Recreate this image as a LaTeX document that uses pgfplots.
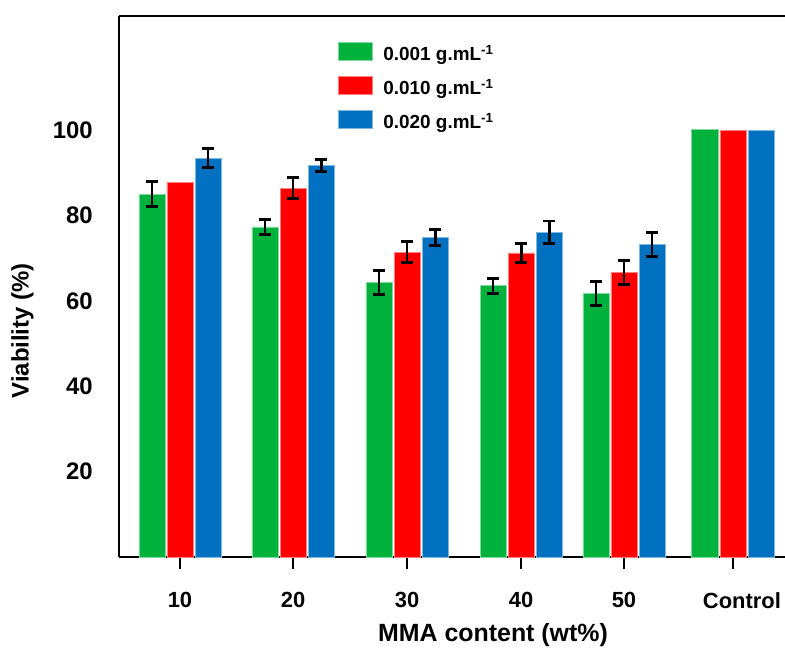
\documentclass[border=0pt]{standalone}
\usepackage{pgfplots}
\usepackage{pgfplotstable}
\pgfplotsset{compat=1.18}
\usepackage{fontspec}
\setmainfont{Liberation Sans}
\definecolor{cgreen}{RGB}{0,178,60}
\definecolor{cred}{RGB}{255,0,0}
\definecolor{cblue}{RGB}{0,112,192}

\pgfplotstableread{
x y
0 85.0
1.020 77.3
2.049 64.2
3.078 63.5
4.007 61.8
4.99 100.2
}\greendata
\pgfplotstableread{
x y
0 87.8
1.020 86.4
2.049 71.4
3.078 71.2
4.007 66.7
4.99 100.0
}\reddata
\pgfplotstableread{
x y
0 93.4
1.020 91.6
2.049 74.8
3.078 76.1
4.007 73.1
4.99 99.9
}\bluedata
\pgfplotstableread{
x y e
0 85.0 3.0
1.020 77.3 1.8
2.049 64.2 2.8
3.078 63.5 1.8
4.007 61.8 2.8
}\greenerr
\pgfplotstableread{
x y e
1.020 86.4 2.5
2.049 71.4 2.5
3.078 71.2 2.2
4.007 66.7 2.8
}\rederr
\pgfplotstableread{
x y e
0 93.4 2.2
1.020 91.6 1.4
2.049 74.8 1.9
3.078 76.1 2.6
4.007 73.1 2.8
}\blueerr

\pgfplotsset{
  mylegend/.style={legend image code/.code={\draw[##1,line width=0.8bp] (0bp,-2.5bp) rectangle (34bp,15.5bp); \path[draw=none,fill=none] (0bp,3bp) -- (45bp,3bp);}},
  errstyle/.style={forget plot, mark=none, draw=none,
    error bars/.cd, y dir=both, y explicit,
    error bar style={draw=black, line width=2.9bp},
    error mark options={draw=black, rotate=90, mark size=6bp, line width=2.9bp}},
}

\begin{document}
\begin{tikzpicture}
\begin{axis}[
  at={(0,0)}, anchor=south west,
  scale only axis, width=666bp, height=541bp,
  xmin=-0.5505, xmax=5.460, ymin=0, ymax=126.7,
  axis x line=box, axis y line=left,
  axis line style={line width=2.2bp, -},
  xtick={0,1.020,2.049,3.078,4.007,4.99},
  xticklabels={10,20,30,40,50,\hspace*{18bp}Control},
  xtick pos=left,
  xtick align=outside, major tick length=12bp,
  xtick style={line width=2.2bp, black},
  ytick={20,40,60,80,100}, ytick style={draw=none},
  /pgf/number format/assume math mode=true,
  yticklabel style={font=\fontsize{24}{24}\selectfont\bfseries, anchor=east, inner sep=0pt, xshift=-20bp},
  xticklabel style={font=\fontsize{22}{22}\selectfont\bfseries, anchor=north, inner sep=0pt, yshift=-23bp},
  xlabel={MMA content (wt\%)},
  xlabel style={font=\fontsize{25}{25}\selectfont\bfseries, at={(rel axis cs:0.5616,0)}, anchor=base, inner sep=0pt, yshift=-84bp},
  ylabel={Viability (\%)},
  ylabel style={font=\fontsize{24}{24}\selectfont\bfseries, at={(rel axis cs:0,0.418)}, anchor=center, inner sep=0pt, yshift=96.5bp},
  legend style={at={(rel axis cs:0.3288,0.9547)}, anchor=north west, draw=none, fill=none, inner sep=0pt, outer sep=0pt, row sep=0pt,
    font=\fontsize{19}{19}\selectfont\bfseries, nodes={inner sep=0pt, text height=20bp, text depth=14bp}},
  legend cell align=left,
]
\addplot[ybar, bar width=0.235, bar shift=-0.253, fill=cgreen, draw=cgreen!50!white, line width=0.8bp, mylegend] table[x=x,y=y] {\greendata};
\addlegendentry{0.001 g.mL\textsuperscript{-1}}
\addplot[ybar, bar width=0.235, bar shift=0, fill=cred, draw=cred!50!white, line width=0.8bp, mylegend] table[x=x,y=y] {\reddata};
\addlegendentry{0.010 g.mL\textsuperscript{-1}}
\addplot[ybar, bar width=0.235, bar shift=0.253, fill=cblue, draw=cblue!50!white, line width=0.8bp, mylegend] table[x=x,y=y] {\bluedata};
\addlegendentry{0.020 g.mL\textsuperscript{-1}}
\addplot[errstyle] table[x expr=\thisrow{x}-0.253, y=y, y error=e] {\greenerr};
\addplot[errstyle] table[x=x, y=y, y error=e] {\rederr};
\addplot[errstyle] table[x expr=\thisrow{x}+0.253, y=y, y error=e] {\blueerr};
\end{axis}
\pgfresetboundingbox
\useasboundingbox (-119bp,-91bp) rectangle (666bp,557bp);
\end{tikzpicture}
\end{document}
